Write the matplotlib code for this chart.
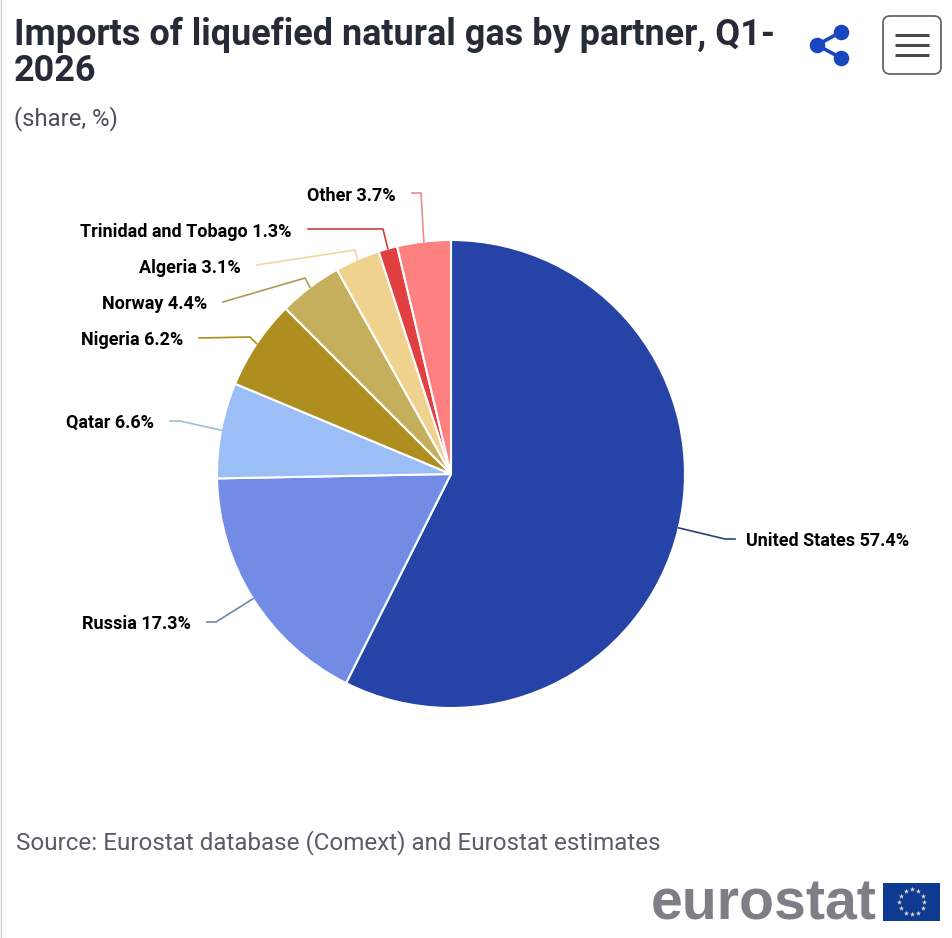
import numpy as np
import matplotlib
matplotlib.use('Agg')
import matplotlib.pyplot as plt
from matplotlib.patches import FancyBboxPatch, Rectangle

partners = ['United States', 'Russia', 'Qatar', 'Nigeria', 'Norway', 'Algeria',
            'Trinidad and Tobago', 'Other']
shares = [57.4, 17.3, 6.6, 6.2, 4.4, 3.1, 1.3, 3.7]
colors = ['#2644A7', '#728CE5', '#9CBEF7', '#AD8E1E', '#C6AF5C', '#EFD28D', '#E04040', '#FF8080']
line_colors = ['#2a3f80', '#6f88b0', '#9fc0d0', '#AD8E1E', '#b09a50', '#EFD9A0', '#cc4040', '#e89090']

# pixel layout of the labels: leader elbow, leader end, text anchor
elbows = [(725, 539), (216, 622), (180, 421), (250, 337), (305, 278), (355, 250), (383, 229), (421, 193)]
ends = [(735, 539), (207, 622), (170, 421), (199, 338), (223, 302), (257, 265), (308, 229), (412, 193)]
text_x = [746, 191, 154, 183, 207, 241, 292, 396]
text_y = [541, 624, 423, 340, 304, 268, 232, 196]

W, H = 953, 938
CX, CY, R = 451, 474, 234

plt.rcParams['font.family'] = ['Roboto', 'DejaVu Sans']
fig = plt.figure(figsize=(W / 100, H / 100), dpi=100)
ax = fig.add_axes([0, 0, 1, 1])

wedges, _ = ax.pie(shares, colors=colors, center=(CX, H - CY), radius=R, startangle=90,
                   counterclock=False, frame=True,
                   wedgeprops=dict(edgecolor='white', linewidth=1.5, joinstyle='round'))
ax.set_xlim(0, W)
ax.set_ylim(0, H)
ax.set_aspect('equal')
ax.axis('off')


def y(py):
    return H - py


# labels and leader lines
for i, w in enumerate(wedges):
    mid = np.deg2rad((w.theta1 + w.theta2) / 2)
    x0 = CX + R * np.cos(mid)
    y0 = H - CY + R * np.sin(mid)
    ax.plot([x0, elbows[i][0], ends[i][0]], [y0, y(elbows[i][1]), y(ends[i][1])],
            color=line_colors[i], lw=1.2, solid_joinstyle='round', zorder=1)
    ha = 'left' if i == 0 else 'right'
    ax.text(text_x[i], y(text_y[i]), f'{partners[i]} {shares[i]}%', ha=ha, va='center',
            fontsize=12.95, fontweight='bold', color='#000000')

# header
ax.text(14, y(45), 'Imports of liquefied natural gas by partner, Q1-', fontsize=25.95,
        fontweight='bold', color='#262b38', va='baseline')
ax.text(14, y(81), '2026', fontsize=25.95, fontweight='bold', color='#262b38', va='baseline')
ax.text(14, y(125), '(share, %)', fontsize=17.2, color='#4a4f5c', va='baseline')

# share icon
ax.plot([841, 817, 841], [y(32), y(45), y(58)], color='#1746BE', lw=2.6, zorder=3)
ax.scatter([841, 817, 841], [y(32), y(45), y(58)], s=125, color='#1746BE', zorder=4, linewidths=0)

# menu button
ax.add_patch(FancyBboxPatch((883, y(74)), 58, 58, boxstyle='round,pad=0,rounding_size=7',
                            fc='white', ec='#666666', lw=1.3))
for py in (35, 45, 55):
    ax.plot([895, 929], [y(py), y(py)], color='#4a4a4a', lw=2.2, solid_capstyle='butt')

# source and logo
ax.text(16, y(849), 'Source: Eurostat database (Comext) and Eurostat estimates', fontsize=17.36,
        color='#5a5d66', va='baseline')
ax.text(651, y(919), 'eurostat', fontsize=41.2, fontweight='bold', color='#7d7f87',
        family=['Liberation Sans', 'DejaVu Sans'], va='baseline')
ax.add_patch(Rectangle((883, y(921)), 57, 38, fc='#0E3A92', ec='none'))
ang = np.arange(12) * np.pi / 6
ax.scatter(912 + 12.5 * np.cos(ang), y(902) + 12.5 * np.sin(ang), marker='*', s=16,
           color='#d9d9c0', linewidths=0, zorder=4)

# thin frame line on the left
ax.plot([0.5, 0.5], [0, H], color='#cccccc', lw=1)

fig.savefig('out.png', dpi=100, facecolor='white')
plt.close(fig)
